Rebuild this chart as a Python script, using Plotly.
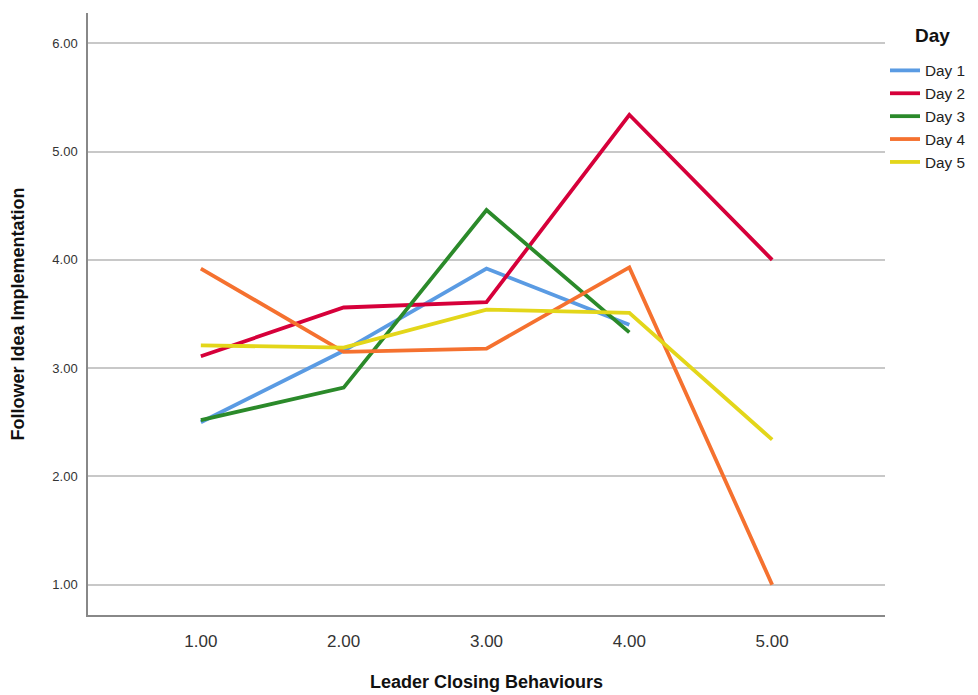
import plotly.graph_objects as go

x_labels = ["1.00", "2.00", "3.00", "4.00", "5.00"]
x_vals = [1, 2, 3, 4, 5]
day_names = ["Day 1", "Day 2", "Day 3", "Day 4", "Day 5"]
day1 = [2.50, 3.16, 3.92, 3.40, None]
day2 = [3.11, 3.56, 3.61, 5.34, 4.00]
day3 = [2.52, 2.82, 4.46, 3.33, None]
day4 = [3.92, 3.15, 3.18, 3.93, 1.00]
day5 = [3.21, 3.19, 3.54, 3.51, 2.34]
series = [day1, day2, day3, day4, day5]
colors = ["#5A9BE3", "#D6003A", "#2B8A2A", "#F5712F", "#E3D61A"]
y_ticks = [1, 2, 3, 4, 5, 6]
y_ticklabels = ["1.00", "2.00", "3.00", "4.00", "5.00", "6.00"]

fig = go.Figure()
for name, vals, c in zip(day_names, series, colors):
    xs = [x for x, v in zip(x_vals, vals) if v is not None]
    ys = [v for v in vals if v is not None]
    fig.add_trace(go.Scatter(x=xs, y=ys, mode="lines", name=name,
                             line=dict(color=c, width=3.8)))

fig.add_annotation(text="<b>Day</b>", xref="paper", yref="paper",
                   x=1.059, y=0.963, xanchor="center", yanchor="middle",
                   showarrow=False, font=dict(size=19, color="#111111"))

fig.update_layout(
    width=978, height=695,
    margin=dict(l=88, r=93, t=13, b=80, autoexpand=False),
    paper_bgcolor="white", plot_bgcolor="white",
    font=dict(family="Liberation Sans, Arial, sans-serif", color="#222222"),
    showlegend=True,
    legend=dict(
        x=1.0, xanchor="left", y=0.932, yanchor="top",
        font=dict(size=15.3, color="#222222"),
        tracegroupgap=0, itemwidth=30,
        bgcolor="rgba(0,0,0,0)",
    ),
    xaxis=dict(
        range=[0.21, 5.79], automargin=False,
        tickmode="array", tickvals=x_vals, ticktext=x_labels,
        tickfont=dict(size=17, color="#333333"),
        showgrid=False, zeroline=False,
        showline=True, linecolor="#888888", linewidth=1.5,
        ticks="", ticklabelstandoff=10,
        title=dict(text="<b>Leader Closing Behaviours</b>", font=dict(size=18, color="#111111"), standoff=25),
    ),
    yaxis=dict(
        range=[0.72, 6.28], automargin=False,
        tickmode="array", tickvals=y_ticks, ticktext=y_ticklabels,
        tickfont=dict(size=13, color="#333333"),
        showgrid=True, gridcolor="#C8C8C8", gridwidth=1.5,
        zeroline=False,
        showline=True, linecolor="#888888", linewidth=1.5,
        ticks="", ticklabelstandoff=6,
        title=dict(text="<b>Follower Idea Implementation</b>", font=dict(size=18, color="#111111"), standoff=23),
    ),
)

fig.write_html("out.html", config={"displayModeBar": False},
               post_script="document.body.style.margin='0';document.body.style.padding='0';")
